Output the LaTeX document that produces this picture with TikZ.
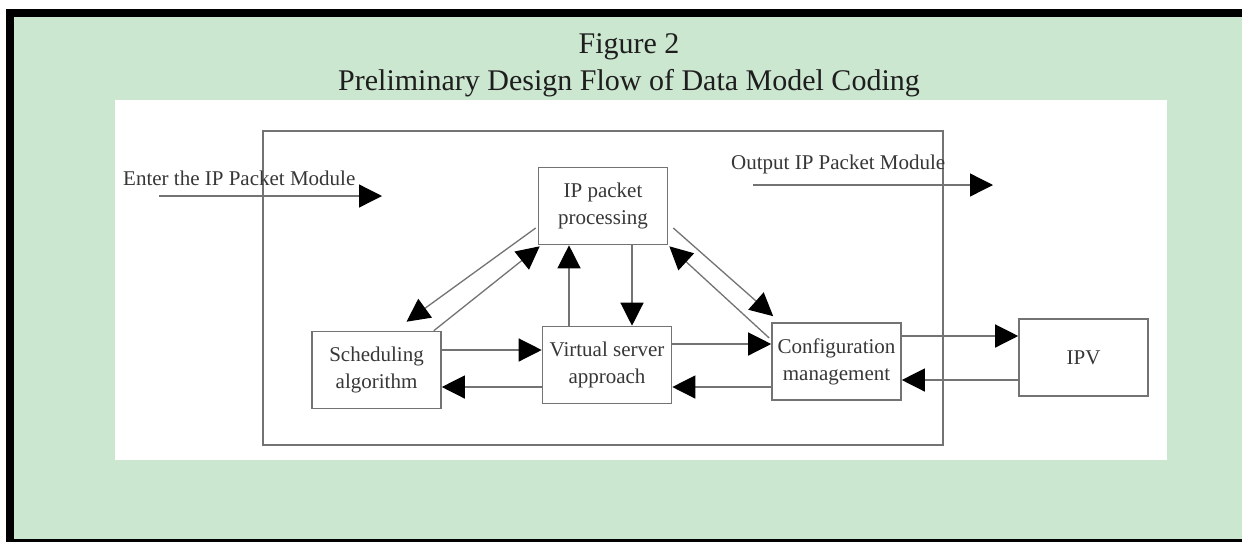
\documentclass[tikz,border=0pt]{standalone}
\usepackage{fontspec}
\setmainfont{Liberation Serif}
\usetikzlibrary{arrows.meta,calc}
\definecolor{mint}{RGB}{204,231,208}
\definecolor{linegray}{RGB}{115,115,115}
\definecolor{textgray}{RGB}{55,55,55}
\definecolor{titleink}{RGB}{30,30,30}
\begin{document}
\begin{tikzpicture}[x=1pt,y=-1pt,
  blockbox/.style={draw=linegray, line width=1.6pt, fill=white, inner sep=0pt,
    minimum width=129pt, minimum height=77pt, align=center, text=textgray,
    font=\fontsize{21}{27}\selectfont},
  modulebox/.style={draw=linegray, line width=1.6pt, inner sep=0pt,
    minimum width=680pt, minimum height=314pt},
  flow/.style={draw=linegray, line width=1.3pt,
    -{Triangle[length=23pt,width=23pt,color=black]}},
  plainline/.style={draw=linegray, line width=1.3pt},
  lbl/.style={text=textgray, inner sep=0pt, font=\fontsize{21}{25}\selectfont},
  titletext/.style={text=titleink, inner sep=0pt, font=\fontsize{30}{36}\selectfont}]
\useasboundingbox (0,0) rectangle (1242,542);
% page, frame and panel
\fill[white] (0,0) rectangle (1242,542);
\fill[black] (6,9) rectangle (1242,542);
\fill[mint] (14,17) rectangle (1242,539);
\fill[white] (115,100) rectangle (1167,460);

% heading
\node[titletext, anchor=base] (fignum) at (629,53) {Figure 2};
\node[titletext, anchor=base] (figtitle) at (629,90) {Preliminary Design Flow of Data Model Coding};

% module boundary
\node[modulebox] (module) at (603,288) {};

% blocks
\node[blockbox] (ipp)   at (603,206)     {IP packet\\processing};
\node[blockbox] (sched) at (376.5,370)   {Scheduling\\algorithm};
\node[blockbox] (virt)  at (607,365)     {Virtual server\\approach};
\node[blockbox] (conf)  at (836.5,361.5) {Configuration\\management};
\node[blockbox] (ipv)   at (1083.5,357.5) {IPV};

% input and output of the module
\node[lbl, anchor=base west] (enterlbl) at (123,185) {Enter the IP Packet Module};
\coordinate (inA) at (159,196);
\coordinate (inB) at (382,196);
\draw[flow] (inA) -- (inB);
\node[lbl, anchor=base west] (outlbl) at (731,169) {Output IP Packet Module};
\coordinate (outA) at (753,185);
\coordinate (outB) at (993,185);
\draw[flow] (outA) -- (outB);

% horizontal links
\draw[flow] ([yshift=20pt]sched.east) -- ([yshift=20pt]sched.east -| virt.west);
\draw[flow] ([yshift=-22pt]virt.west) -- ([yshift=-22pt]virt.west -| sched.east);
\draw[flow] ([yshift=21pt]virt.east) -- ([yshift=21pt]virt.east -| conf.west);
\draw[flow] ([yshift=-25.5pt]conf.west) -- ([yshift=-25.5pt]conf.west -| virt.east);
\draw[flow] ([yshift=25.5pt]conf.east) -- ([yshift=25.5pt]conf.east -| ipv.west);
\draw[flow] ([yshift=-22.5pt]ipv.west) -- ([yshift=-22.5pt]ipv.west -| conf.east);

% vertical links
\draw[flow] ([xshift=-38pt]virt.north) -- ([xshift=-38pt]virt.north |- ipp.south);
\draw[flow] ([xshift=29pt]ipp.south) -- ([xshift=29pt]ipp.south |- virt.north);

% diagonal links
\draw[flow] ([xshift=-2pt,yshift=-22pt]ipp.west) -- ([xshift=30pt,yshift=9pt]sched.north);
\draw[flow] ([xshift=-8pt]sched.north east) -- ([xshift=2pt,yshift=-1pt]ipp.south west);
\draw[flow] ([xshift=5pt,yshift=-22pt]ipp.east) -- ([xshift=2pt,yshift=6pt]conf.north west);
\draw[flow] ([xshift=-2pt,yshift=23.5pt]conf.west) -- ([xshift=1pt,yshift=-1pt]ipp.south east);
\end{tikzpicture}
\end{document}
